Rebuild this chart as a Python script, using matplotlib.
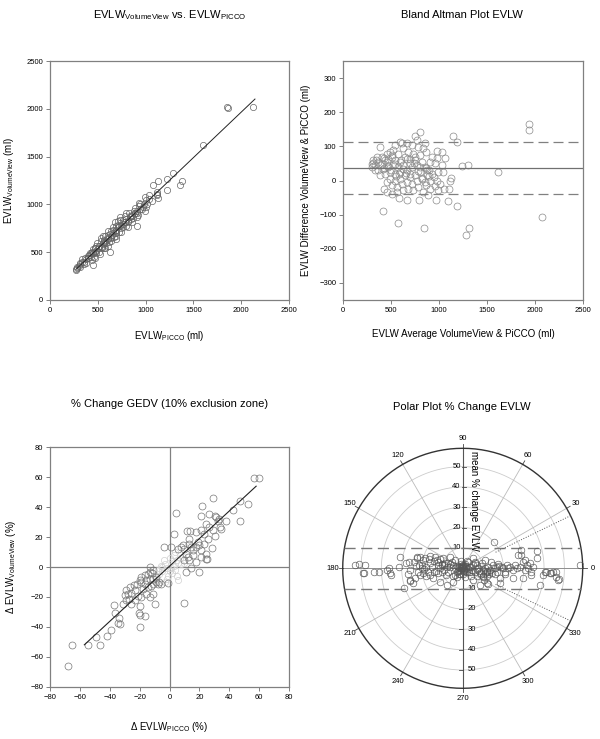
import numpy as np
import matplotlib
matplotlib.use("Agg")
import matplotlib.pyplot as plt

plt.rcParams['font.family'] = ['Liberation Sans', 'DejaVu Sans']
plt.rcParams['mathtext.default'] = 'regular'

# Bland-Altman pairs (average, difference) in ml; EVLW values derived from them
ba_avg = [411, 568, 843, 1316, 1281, 1184, 1097, 964, 790, 663, 585, 428, 505, 801, 749,
          592, 383, 1142, 1190, 1243, 1306, 1121, 1114, 1052, 1107, 975, 1034, 1063, 975,
          1027, 992, 1044, 975, 1010, 958, 992, 888, 836, 905, 864, 905, 958, 905, 923,
          864, 836, 853, 784, 714, 663, 627, 680, 731, 801, 749, 696, 645, 575, 522, 488,
          453, 401, 348, 314, 296, 296, 331, 366, 401, 436, 470, 505, 540, 592, 627, 575,
          522, 470, 418, 366, 331, 383, 436, 488, 540, 592, 662, 714, 766, 818, 853, 801,
          749, 696, 645, 592, 540, 488, 453, 505, 558, 610, 662, 714, 766, 818, 870, 784,
          731, 680, 627, 558, 453, 923, 870, 540, 610, 766, 1935, 1935, 1612, 2072,
          310, 345, 380, 420, 460, 500, 540, 580, 620, 660, 700, 740, 780, 820, 860, 900,
          430, 470, 510, 550, 600, 650, 700, 750, 800, 850, 900, 950]
ba_diff = [-88, -124, -140, -139, -159, -74, -60, -57, -57, -57, -50, -26, -41, 142, 130,
           113, 98, 130, 113, 42, 45, 8, -2, -26, -26, 86, 84, 65, 65, 45, 25, 25, 0, -10,
           -15, -29, -43, -34, -24, -14, 0, 50, 55, 69, 84, 94, 109, 99, 104, 109, 94, 84,
           79, 74, 59, 64, 69, 79, 89, 84, 79, 69, 69, 59, 49, 40, 45, 55, 49, 59, 64, 74,
           59, 55, 45, 40, 45, 40, 35, 30, 30, 15, 20, 25, 20, 25, 30, 40, 45, 55, 40, 25,
           15, 10, 15, 5, 0, 5, -5, -14, -19, -10, -5, -10, 0, 5, 15, -19, -29, -24, -29,
           -34, -34, 20, 30, 104, 109, 119, 165, 148, 24, -107,
           52, 60, 45, 38, 55, 30, 48, 20, 35, 62, 18, 50, 28, 8, 36, 12,
           65, 42, 70, 12, 60, 22, 50, 70, 40, -5, 30, 10]

bias, loa_up, loa_low = 37, 114, -40
reg_x = [272, 2144]
reg_y = [321, 2102]

# % change data outside the 10% exclusion zone
d_picco = [56.7, 59.6, 28.9, 21.6, 4.4, 47.3, 52.7, 42.2, 47.3, 37.8, 21.1, 26.7, 30.4,
           33.3, 31.1, 32.2, 24.4, 26.2, 28.9, 34.0, 34.4, 22.9, 30.7, 25.6, 21.1, 17.8,
           14.0, 11.8, 2.9, 28.7, 24.9, 19.6, 11.1, 10.0, 14.4, 17.8, 13.3, 12.9, 14.4,
           15.6, 11.1, 12.2, 13.3, 10.0, 16.0, 17.8, 20.0, 21.1, 23.3, 18.9, 24.4, 24.4,
           21.1, 8.9, 7.8, 5.6, 10.0, -4.0, 1.1,
           -68.2, -65.6, -54.4, -46.7, -49.3, -41.8, -39.3, -34.4, -32.9, -20.0, -20.0,
           -16.7, -20.0, -20.4, -36.2, -33.8, -37.3, -31.1, -28.9, -27.1, -30.0, -27.8,
           -25.6, -23.3, -24.0, -21.8, -20.0, -18.9, -16.7, -14.4, -13.3, -11.8, -11.1,
           -18.9, -16.7, -14.4, -12.2, -11.1, -9.3, -7.8, -6.7, -5.6, -11.1, -8.9, -15.6,
           -13.3, -17.8, -15.6, -18.9, -13.3, -11.1, -25.6, -23.3, -21.1, -10.0, -26.7,
           -28.9, -13.3, -1.1]
d_vv = [59.3, 59.3, 46.2, 40.7, 36.2, 44.4, 42.2, 38.4, 30.7, 30.7, 34.4, 35.6, 34.4,
        32.2, 33.3, 30.7, 28.9, 26.7, 24.9, 26.7, 25.6, 21.8, 20.4, 18.9, 24.9, 23.3,
        24.0, 24.0, 22.2, 12.7, 5.6, -3.3, -3.3, -23.8, -0.4, 3.3, 18.9, 15.6, 13.3,
        11.1, 8.9, 6.7, 4.4, 4.4, 7.8, 13.3, 14.4, 11.1, 15.6, 16.7, 8.9, 5.6, 6.7,
        14.4, 13.3, 12.2, 12.2, 13.3, 13.3,
        -66.0, -52.2, -52.2, -51.8, -47.1, -45.8, -41.8, -37.3, -38.2, -40.4, -32.2,
        -32.7, -26.2, -30.7, -30.7, -34.4, -25.1, -24.4, -22.2, -21.1, -18.9, -17.8,
        -17.1, -15.6, -12.2, -11.1, -8.9, -6.7, -5.6, -4.9, -3.3, -4.0, -2.2, -10.0,
        -11.6, -13.3, -12.9, -11.1, -10.0, -11.6, -10.0, -11.1, -7.8, -6.7, -8.9, -7.8,
        -14.4, -17.8, -20.0, -20.0, -17.8, -24.4, -22.2, -19.6, -24.4, -13.3, -15.6,
        0.0, -10.7]
# points inside the exclusion zone (drawn faint)
ex_picco = [-5, -3, 2, 4, -1, 6, -7, 3, -2, 7, 1, -4, 5, 8, -8, 0, -6, 2, 9, -9, 4, -3,
            10, 6, -10, -5, 3, 0, -2, 5]
ex_vv = [-3, 2, 4, -2, -6, 3, -5, 8, -8, 6, -1, 5, -6, 2, -2, 6, 1, -4, 7, -8, 10, -10,
         3, -9, -7, 0, 1, -3, -1, 5]
pc_reg_x = [-57, 58]
pc_reg_y = [-52, 54]

# polar plot points (cartesian components, %)
pp_x = [-52.8, -51.1, -48.7, -43.8, -41.3, -36.4, -35.6, -35.3, -37.3, -31.5, -30.7,
        -26.6, -25.8, -24.5, -23.4, -22.5, -20.9, -19.3, -18.5, -16.8, -16.0, -21.7,
        -20.1, -18.0, -17.3, -19.3, -21.2, -16.0, -14.4, -13.6, -12.7, -11.9, -11.1,
        -10.3, -9.5, -8.7, -7.8, -7.0, -6.2, -5.4, -4.6, -3.8, -2.9, -2.1, -1.3, -0.5,
        0.3, 0.7, -1.0, 1.1, 2.0, 2.8, 3.6, 4.4, 5.2, 6.0, 6.9, 7.7, 8.5, 9.3, 10.1,
        11.0, 11.8, 12.6, 13.4, 14.2, 15.0, 15.8, 16.7, 17.5, 18.3, 19.1, 19.9, 20.8,
        21.6, 22.4, 23.2, 24.8, 25.7, 26.5, 28.1, 28.9, 29.7, 30.6, 31.4, 32.2, 33.0,
        33.8, 34.6, 28.9, 36.3, 37.9, 39.5, 41.2, 42.8, 44.4, 46.1, 46.9, 15.4, 10.5,
        11.8, 8.5, 5.2, -11.1, -7.8, -4.6, 57.5, -47.9, -49.2, -28.8, -25.8, -22.5,
        36.3, 27.3, 30.6, 40.4, 43.6, 46.1, 47.2, 33.8, 29.7, 24.8, 18.3, 12.6,
        -1.0, 1.0, -2.0, 0.5, 1.5, -0.8, 2.5, -2.5, -3.0, 3.0, 0.0, -1.5, 9.0, 10.0,
        11.0, 12.0, 13.0, 7.0, -14.0, -12.0, -9.0, -6.0, -4.0, -10.0, 4.0, 6.0]
pp_y = [1.6, 2.0, -2.5, -1.6, -1.6, 0.3, -2.5, -3.3, -0.8, 0.8, 5.7, 3.3, -5.7, -7.4,
        -4.6, 4.9, 5.7, 4.1, 5.2, 4.4, 2.5, 1.6, 0.0, 0.8, -1.6, -2.5, -3.3, -3.3, -4.9,
        5.7, 4.1, 1.6, 0.0, -1.6, 4.9, 2.5, 0.8, -1.6, 5.7, 3.3, 1.6, 0.0, -1.6, 0.8,
        0.3, 0.0, 0.5, -0.5, 1.3, 2.0, -1.6, 3.3, 0.8, -0.8, 4.9, -1.6, 1.6, 0.0, -2.5,
        2.5, -0.8, 0.3, -1.6, 0.8, -0.8, -2.5, 1.6, 0.0, -1.6, 2.0, -4.9, 0.8, 0.0,
        -1.6, 1.6, 0.0, 0.8, -0.8, 1.6, 0.0, 0.8, 9.0, 3.3, -0.8, 1.6, 0.0, 2.5, -1.6,
        0.8, 6.5, 4.9, -8.2, -3.3, -1.6, -2.5, -1.6, -4.1, -5.7, 12.7, -5.7, -7.4, -8.2,
        -5.7, -6.5, -8.2, -6.5, 1.6, 1.6, -2.5, -9.8, -6.1, 5.7, 8.5, 6.5, 4.1, -1.6,
        -2.5, -1.6, -5.4, -3.3, -4.9, -4.9, -7.4, -7.8,
        -1.0, 1.0, 0.5, -2.0, 0.3, 2.2, -0.5, -1.2, 1.0, -2.0, -3.0, -3.0, -3.0, -4.0,
        -2.5, -4.0, -3.0, -4.0, -2.0, 3.0, -1.0, 2.0, -3.5, 1.5, -2.0, 3.0]
# extra points in the crowded middle of the polar cloud
pp_x_dense = [-28, -26, -24, -22, -20, -18, -16, -14, -12, -10, -8, -6, -4, -2, 0, 2, 4,
              6, 8, 10, 12, 14, 16, 18, -27, -23, -19, -15, -11, -7, -3, 1, 5, 9, 13,
              17, 21, -13, -9, -5, -1, 3, 7, 11, -0.5, 0.8, -1.8, 1.8, 0.2, -0.3]
pp_y_dense = [2.5, -1.0, 3.0, -2.0, 1.5, -4.0, 6.0, 3.5, -2.5, 2.0, -3.5, 0.5, 4.0, -2.8,
              1.8, 3.8, -3.8, 2.8, -1.2, -4.5, -1.5, 3.2, -3.0, 1.0, -3.0, 1.0, -0.5,
              0.8, 4.5, 2.8, -4.2, -4.5, 1.8, 1.0, -1.8, 0.5, -3.0, -1.2, 1.8, -4.0,
              3.5, 0.8, -0.2, 4.0, 0.4, -0.6, -0.8, 1.2, -1.4, 0.9]

angle_labels = [0, 30, 60, 90, 120, 150, 180, 210, 240, 270, 300, 330]
ring_values = [10, 20, 30, 40, 50]

W, H = 600, 739
fig = plt.figure(figsize=(6, 7.39), dpi=100)

spine_c = '#808080'


def px_axes(l, t, r, b, **kw):
    return fig.add_axes([l / W, 1 - b / H, (r - l) / W, (b - t) / H], **kw)


def style(ax):
    for s in ax.spines.values():
        s.set_color(spine_c)
        s.set_linewidth(0.9)
    ax.tick_params(direction='out', length=3, width=0.7, color=spine_c,
                   labelsize=5.5, pad=2, top=False, right=False)


def labels(ax, xl, yl, xpos, ypos):
    ax.set_xlabel(xl, fontsize=7)
    ax.set_ylabel(yl, fontsize=7, va='center')
    ax.xaxis.set_label_coords(0.5, xpos)
    ax.yaxis.set_label_coords(ypos, 0.5)


# panel 1
avg = np.array(ba_avg, dtype=float)
diff = np.array(ba_diff, dtype=float)
evlw_picco = avg - diff / 2
evlw_vv = avg + diff / 2

ax1 = px_axes(50, 61, 289, 300)
style(ax1)
ax1.plot(evlw_picco, evlw_vv, 'o', mfc='none', mec='#666666', ms=4.5, mew=0.5)
ax1.plot(reg_x, reg_y, color='#222222', lw=0.7)
ax1.set_xlim(0, 2500)
ax1.set_ylim(0, 2500)
ax1.set_xticks(range(0, 2501, 500))
ax1.set_yticks(range(0, 2501, 500))
labels(ax1, 'EVLW$_{PICCO}$ (ml)', 'EVLW$_{VolumeView}$ (ml)', -0.12, -0.17)
fig.text(170 / W, 1 - 15 / H, 'EVLW$_{VolumeView}$ vs. EVLW$_{PICCO}$',
         ha='center', va='center', fontsize=8)

# panel 2
ax2 = px_axes(343.3, 61, 582.7, 300)
style(ax2)
ax2.plot(avg, diff, 'o', mfc='none', mec='#8a8a8a', ms=5, mew=0.5)
ax2.axhline(bias, color='#707070', lw=0.9)
ax2.axhline(loa_up, color='#808080', lw=0.9, dashes=(8, 4))
ax2.axhline(loa_low, color='#808080', lw=0.9, dashes=(8, 4))
ax2.set_xlim(0, 2500)
ax2.set_ylim(-350, 350)
ax2.set_xticks(range(0, 2501, 500))
ax2.set_yticks(range(-300, 301, 100))
labels(ax2, 'EVLW Average VolumeView & PiCCO (ml)',
       'EVLW Difference VolumeView & PiCCO (ml)', -0.12, -0.155)
fig.text(462 / W, 1 - 15 / H, 'Bland Altman Plot EVLW',
         ha='center', va='center', fontsize=8)

# panel 3
ax3 = px_axes(50, 447.3, 289, 686.7)
style(ax3)
ax3.axhline(0, color='#808080', lw=0.9)
ax3.axvline(0, color='#808080', lw=0.9)
ax3.plot(ex_picco, ex_vv, 'o', mfc='none', mec='#d0d0d0', ms=4.5, mew=0.5)
ax3.plot(d_picco, d_vv, 'o', mfc='none', mec='#777777', ms=5, mew=0.5)
ax3.plot(pc_reg_x, pc_reg_y, color='#222222', lw=0.8)
ax3.set_xlim(-80, 80)
ax3.set_ylim(-80, 80)
ax3.set_xticks(range(-80, 81, 20))
ax3.set_yticks(range(-80, 81, 20))
labels(ax3, 'Δ EVLW$_{PICCO}$ (%)', 'Δ EVLW$_{VolumeView}$ (%)', -0.14, -0.165)
fig.text(170 / W, 1 - 404 / H, '% Change GEDV (10% exclusion zone)',
         ha='center', va='center', fontsize=8)

# panel 4: polar plot drawn on equal-aspect axes
R = 59
ax4 = px_axes(342.7, 448.3, 582.7, 688.3)
ax4.set_xlim(-R, R)
ax4.set_ylim(-R, R)
ax4.axis('off')
t = np.linspace(0, 2 * np.pi, 361)
for rv in ring_values:
    ax4.plot(rv * np.cos(t), rv * np.sin(t), color='#cccccc', lw=0.6, zorder=1)
for a in angle_labels:
    th = np.radians(a)
    ax4.plot([0, R * np.cos(th)], [0, R * np.sin(th)], color='#bbbbbb', lw=0.6, zorder=1)
    ax4.plot([R * np.cos(th), (R + 2) * np.cos(th)], [R * np.sin(th), (R + 2) * np.sin(th)],
             color='#444444', lw=0.6, clip_on=False)
    ax4.text(64 * np.cos(th), 64 * np.sin(th), str(a), fontsize=5.5,
             ha='center', va='center', clip_on=False)
ax4.plot([-R, R], [0, 0], color='#909090', lw=0.7, zorder=1)
ax4.plot([0, 0], [-R, R], color='#555555', lw=0.8, zorder=2)
ax4.plot(R * np.cos(t), R * np.sin(t), color='#333333', lw=1.0, clip_on=False)
for rv in ring_values:
    ax4.plot([-0.5, 1.5], [rv, rv], color='#444444', lw=0.6)
    ax4.text(-1.0, rv, str(rv), fontsize=5.5, ha='right', va='center')
    ax4.plot([-1.8, 0.3], [-rv, -rv], color='#444444', lw=0.6)
    ax4.text(2.5, -rv, str(rv), fontsize=5.5, ha='left', va='center')
half = np.sqrt(R ** 2 - 10 ** 2)
for yv in (10, -10):
    ax4.plot([-half, half], [yv, yv], color='#777777', lw=1.0, dashes=(8, 4), zorder=3)
for a in (26, -26):
    th = np.radians(a)
    ax4.plot([18 * np.cos(th), R * np.cos(th)], [18 * np.sin(th), R * np.sin(th)],
             color='#555555', lw=0.7, ls=':', zorder=3)
ax4.plot(pp_x, pp_y, 'o', mfc='none', mec='#555555', ms=4.8, mew=0.45, zorder=4)
ax4.plot(pp_x_dense, pp_y_dense, 'o', mfc='none', mec='#555555', ms=4.8, mew=0.45,
         zorder=4)
ax4.text(5.8, 33, 'mean % change EVLW', rotation=270, fontsize=7,
         ha='center', va='center')
fig.text(462 / W, 1 - 406.7 / H, 'Polar Plot % Change EVLW',
         ha='center', va='center', fontsize=8)

fig.savefig('out.png', dpi=100)
